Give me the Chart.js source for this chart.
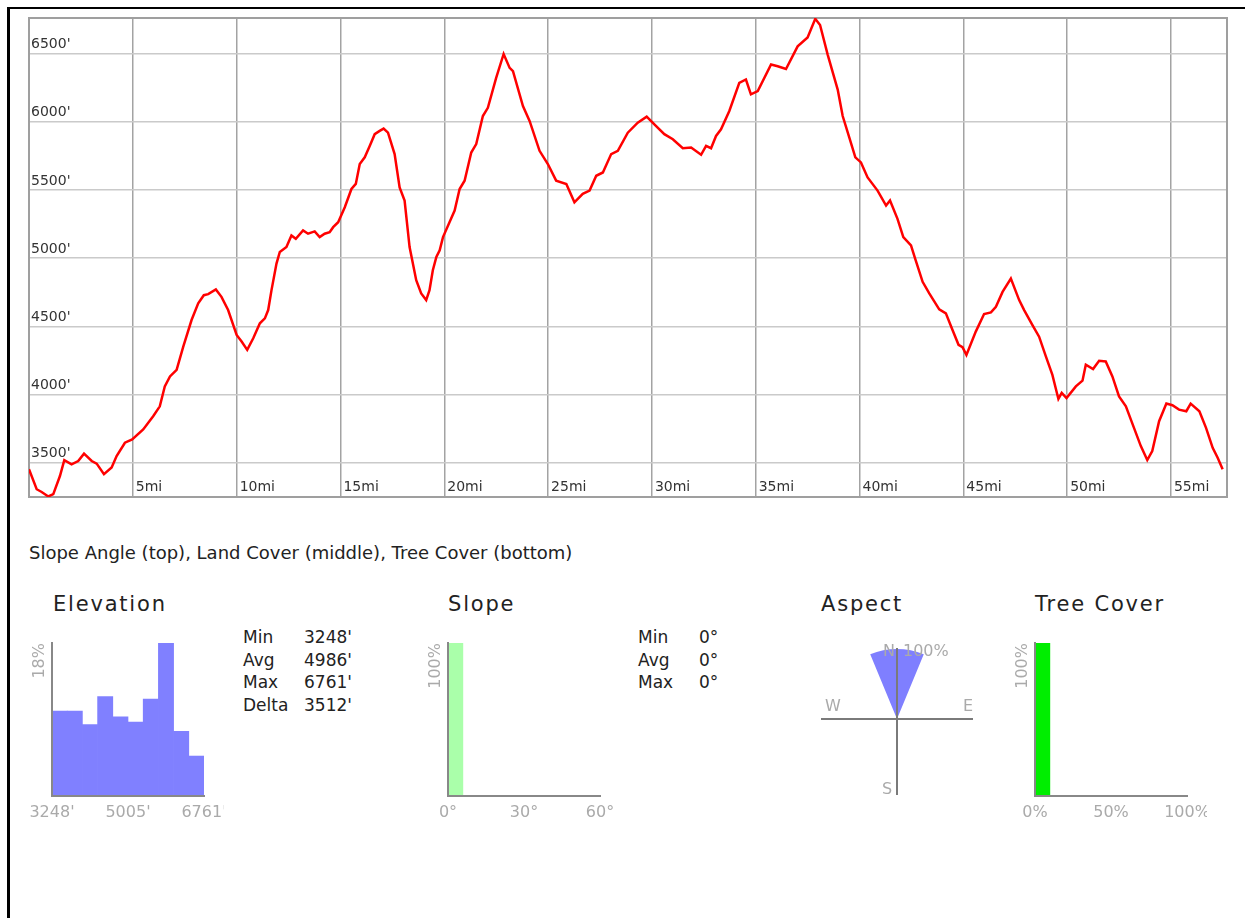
<!DOCTYPE html>
<html>
<head>
<meta charset="utf-8">
<script src="https://cdn.jsdelivr.net/npm/chart.js@4.4.1/dist/chart.umd.min.js"></script>
<style>
  body { margin: 0; width: 1245px; height: 918px; overflow: hidden; background: #fff; position: relative;
         font-family: 'DejaVu Sans', sans-serif; color: #222; }
  .frame { position: absolute; left: 7px; top: 7px; width: 1260px; height: 930px;
           border-left: 3px solid #000; border-top: 2px solid #000; }
  canvas { position: absolute; }
  .title { position: absolute; top: 592px; font-size: 21px; line-height: 25px; letter-spacing: 1.8px; white-space: nowrap; }
  .sub { position: absolute; left: 29px; top: 542px; font-size: 18px; line-height: 22px; white-space: nowrap; }
  .stats { position: absolute; top: 626px; font-size: 17px; line-height: 22.7px; border-collapse: collapse; }
  .stats td { padding: 0; white-space: nowrap; }
  .stats td:first-child { width: 61px; }
</style>
</head>
<body>
<div class="frame"></div>
<canvas id="profile" width="1245" height="510" style="left:0;top:0"></canvas>

<div class="sub">Slope Angle (top), Land Cover (middle), Tree Cover (bottom)</div>

<div class="title" style="left:53px">Elevation</div>
<div class="title" style="left:448px">Slope</div>
<div class="title" style="left:821px">Aspect</div>
<div class="title" style="left:1035px">Tree Cover</div>

<canvas id="elevHist" width="204" height="200" style="left:20px;top:630px"></canvas>
<table class="stats" id="elevStats" style="left:243px"></table>

<canvas id="slopeHist" width="204" height="200" style="left:416px;top:630px"></canvas>
<table class="stats" id="slopeStats" style="left:638px"></table>

<canvas id="aspect" width="180" height="170" style="left:810px;top:636px"></canvas>

<canvas id="treeHist" width="204" height="200" style="left:1003px;top:630px"></canvas>

<script>
// elevation profile
const distMi = [
  0.00, 0.37, 0.61, 0.93, 1.17, 1.49, 1.70, 2.05, 2.37, 2.65, 3.02, 3.26, 3.61, 3.98, 4.22, 4.62, 4.97,
  5.50, 5.98, 6.30, 6.54, 6.79, 7.11, 7.43, 7.83, 8.15, 8.42, 8.63, 9.00, 9.27, 9.59,
  10.00, 10.24, 10.51, 10.80, 11.12, 11.36, 11.52, 11.68, 11.92, 12.08, 12.40, 12.64, 12.85, 13.20, 13.44, 13.76,
  14.00, 14.24, 14.48, 14.65, 14.89, 15.21, 15.53, 15.74, 15.93, 16.17, 16.41, 16.65, 16.89, 17.08, 17.29, 17.61,
  17.85, 18.09, 18.33, 18.65, 18.89, 19.13, 19.29, 19.45, 19.62, 19.78, 19.94, 20.50, 20.74, 20.98, 21.30, 21.54,
  21.86, 22.10, 22.50, 22.86, 23.15, 23.31, 23.79, 24.11, 24.59, 24.99, 25.39, 25.88, 26.27, 26.67, 27.00, 27.32,
  27.64, 28.04, 28.36, 28.84, 29.32, 29.75, 30.12, 30.60, 31.01, 31.49, 31.89, 32.37, 32.61, 32.85, 33.09, 33.33,
  33.73, 34.21, 34.53, 34.77, 35.10, 35.74, 36.06, 36.46, 37.02, 37.50, 37.87, 38.10, 38.47, 38.95, 39.19, 39.51,
  39.80, 40.07, 40.39, 40.87, 41.28, 41.47, 41.83, 42.11, 42.48, 42.68, 43.04, 43.36, 43.84, 44.16, 44.48, 44.77,
  44.96, 45.15, 45.60, 46.00, 46.33, 46.57, 46.89, 47.29, 47.69, 47.93, 48.33, 48.65, 48.98, 49.29, 49.58, 49.74,
  49.97, 50.42, 50.74, 50.90, 51.25, 51.54, 51.86, 52.18, 52.50, 52.83, 53.22, 53.55, 53.86, 54.10, 54.43, 54.78,
  55.07, 55.39, 55.74, 55.95, 56.37, 56.69, 57.01, 57.25, 57.49
];
const elevFt = [
  3451, 3305, 3285, 3252, 3269, 3402, 3519, 3488, 3512, 3566, 3512, 3493, 3415, 3464, 3548, 3646, 3670,
  3743, 3840, 3913, 4059, 4132, 4181, 4351, 4546, 4668, 4728, 4736, 4770, 4716, 4619,
  4436, 4388, 4327, 4412, 4522, 4558, 4619, 4765, 4960, 5045, 5081, 5166, 5142, 5203, 5179, 5196,
  5154, 5179, 5190, 5227, 5263, 5373, 5507, 5544, 5690, 5739, 5823, 5909, 5933, 5950, 5920, 5763,
  5519, 5422, 5081, 4838, 4741, 4692, 4765, 4911, 5008, 5057, 5154, 5349, 5507, 5568, 5774, 5836,
  6042, 6102, 6322, 6497, 6395, 6371, 6115, 6006, 5787, 5690, 5568, 5544, 5409, 5471, 5495, 5604,
  5628, 5763, 5787, 5920, 5993, 6037, 5981, 5909, 5872, 5806, 5811, 5758, 5823, 5806, 5896, 5945,
  6079, 6285, 6310, 6201, 6225, 6420, 6407, 6387, 6553, 6618, 6755, 6710, 6491, 6236, 6042, 5884,
  5739, 5702, 5592, 5495, 5385, 5422, 5288, 5154, 5093, 4996, 4826, 4741, 4624, 4595, 4473, 4364,
  4347, 4290, 4461, 4590, 4602, 4643, 4752, 4850, 4692, 4619, 4509, 4424, 4278, 4144, 3967, 4011,
  3974, 4059, 4101, 4218, 4186, 4247, 4242, 4132, 3986, 3913, 3755, 3621, 3519, 3585, 3804, 3933,
  3921, 3889, 3877, 3933, 3877, 3755, 3609, 3536, 3451
];
const xTicks = [5, 10, 15, 20, 25, 30, 35, 40, 45, 50, 55];
const yTicks = [3500, 4000, 4500, 5000, 5500, 6000, 6500];
const distMax = 57.7;

// summary widgets
const elevMin = 3248;
const elevMax = 6761;
const elevHist = [10.0, 10.0, 8.4, 11.7, 9.3, 8.7, 11.4, 18.0, 7.6, 4.7];   // % per bin
const slopeHist = [100, 0, 0, 0, 0, 0, 0, 0, 0, 0];                         // 0..60 deg
const treeHist = [100, 0, 0, 0, 0, 0, 0, 0, 0, 0];                          // 0..100 %
const aspectDirs = ['N', 'NE', 'E', 'SE', 'S', 'SW', 'W', 'NW'];
const aspectPct = [100, 0, 0, 0, 0, 0, 0, 0];

const elevStats = [['Min', "3248'"], ['Avg', "4986'"], ['Max', "6761'"], ['Delta', "3512'"]];
const slopeStats = [['Min', '0°'], ['Avg', '0°'], ['Max', '0°']];

function fillStats(id, rows) {
  document.getElementById(id).innerHTML =
    rows.map(r => `<tr><td>${r[0]}</td><td>${r[1]}</td></tr>`).join('');
}
fillStats('elevStats', elevStats);
fillStats('slopeStats', slopeStats);

Chart.defaults.font.family = "'DejaVu Sans', sans-serif";
Chart.defaults.animation = false;

const noPad = s => { s.paddingLeft = 0; s.paddingRight = 0; s.paddingTop = 0; s.paddingBottom = 0; };

// grey box round the plot
const frame = {
  id: 'frame',
  beforeDatasetsDraw(chart) {
    const { ctx, chartArea: a } = chart;
    ctx.save();
    ctx.strokeStyle = '#9f9f9f';
    ctx.lineWidth = 2;
    ctx.strokeRect(a.left, a.top, a.right - a.left, a.bottom - a.top);
    ctx.restore();
  }
};

new Chart(document.getElementById('profile'), {
  type: 'line',
  data: {
    datasets: [{
      data: distMi.map((d, i) => ({ x: d, y: elevFt[i] })),
      borderColor: '#f00',
      borderWidth: 2.5,
      pointRadius: 0,
      tension: 0,
      fill: false
    }]
  },
  options: {
    responsive: false,
    layout: { padding: { left: 29, top: 18, right: 18, bottom: 13 } },
    plugins: { legend: { display: false }, tooltip: { enabled: false } },
    scales: {
      x: {
        type: 'linear', min: 0, max: distMax,
        afterBuildTicks: s => { s.ticks = xTicks.map(v => ({ value: v })); },
        afterFit: s => { s.height = 0; noPad(s); },
        grid: { color: '#a3a3a3', lineWidth: 1.5, drawTicks: false },
        border: { display: false },
        ticks: { mirror: true, align: 'start', labelOffset: 3, padding: 1, color: '#333', font: { size: 14 },
                 maxRotation: 0, autoSkip: false, callback: v => v + 'mi' }
      },
      y: {
        min: elevMin, max: elevMax,
        afterBuildTicks: s => { s.ticks = yTicks.map(v => ({ value: v })); },
        afterFit: s => { s.width = 0; noPad(s); },
        grid: { color: '#cacaca', lineWidth: 1.5, drawTicks: false },
        border: { display: false },
        ticks: { mirror: true, padding: 2, labelOffset: -9, color: '#333', font: { size: 14 },
                 callback: v => v + "'" }
      }
    }
  },
  plugins: [frame]
});

function histChart(id, values, lo, hi, ticks, fmt, color, inflate) {
  const step = (hi - lo) / values.length;
  const top = Math.max(...values);
  return new Chart(document.getElementById(id), {
    type: 'bar',
    data: {
      datasets: [{
        data: values.map((v, i) => ({ x: lo + step * (i + 0.5), y: v })),
        backgroundColor: color,
        borderWidth: 0,
        barPercentage: 1,
        categoryPercentage: 1,
        inflateAmount: inflate
      }]
    },
    options: {
      responsive: false,
      layout: { padding: { left: 10, right: 20, top: 13, bottom: 0 } },
      plugins: { legend: { display: false }, tooltip: { enabled: false } },
      scales: {
        x: {
          type: 'linear', min: lo, max: hi, offset: false,
          afterBuildTicks: s => { s.ticks = ticks.map(v => ({ value: v })); },
          afterFit: s => { s.height = 34; noPad(s); },
          grid: { display: false, drawTicks: false },
          border: { color: '#888', width: 2, z: 1 },
          ticks: { padding: 7, color: '#aaa', font: { size: 16 }, maxRotation: 0, autoSkip: false, callback: fmt }
        },
        y: {
          min: 0, max: top,
          afterFit: s => { s.width = 22; noPad(s); },
          grid: { display: false, drawTicks: false },
          border: { color: '#888', width: 2, z: 1 },
          ticks: { display: false },
          title: { display: true, text: Math.round(top) + '%', align: 'end', color: '#aaa',
                   font: { size: 16 }, padding: 0 }
        }
      }
    }
  });
}

histChart('elevHist', elevHist, elevMin, elevMax, [elevMin, (elevMin + elevMax) / 2, elevMax],
  v => Math.round(v) + "'", '#8080ff', 'auto');
histChart('slopeHist', slopeHist, 0, 60, [0, 30, 60], v => v + '°', '#aaffaa', 0);
histChart('treeHist', treeHist, 0, 100, [0, 50, 100], v => v + '%', '#00ee00', 0);

// compass cross and labels on the aspect rose
const compass = {
  id: 'compass',
  afterDatasetsDraw(chart) {
    const r = chart.scales.r;
    const cx = r.xCenter, cy = r.yCenter, R = r.drawingArea;
    const ctx = chart.ctx;
    ctx.save();
    ctx.strokeStyle = '#7a7a7a';
    ctx.lineWidth = 2;
    ctx.beginPath();
    ctx.moveTo(cx - R - 6, cy); ctx.lineTo(cx + R + 6, cy);
    ctx.moveTo(cx, cy - R - 1); ctx.lineTo(cx, cy + R + 6);
    ctx.stroke();
    ctx.fillStyle = '#aaa';
    ctx.font = "16px 'DejaVu Sans'";
    ctx.textBaseline = 'middle';
    ctx.textAlign = 'center';
    ctx.fillText('W', cx - R + 6, cy - 12);
    ctx.fillText('E', cx + R + 1, cy - 12);
    ctx.fillText('S', cx - 10, cy + R + 1);
    ctx.fillText('N', cx - 8, cy - R + 3);
    ctx.textAlign = 'left';
    ctx.fillText(r.max + '%', cx + 6, cy - R + 3);
    ctx.restore();
  }
};

new Chart(document.getElementById('aspect'), {
  type: 'polarArea',
  data: {
    labels: aspectDirs,
    datasets: [{ data: aspectPct, backgroundColor: 'rgba(0,0,255,0.5)', borderWidth: 0 }]
  },
  options: {
    responsive: false,
    layout: { padding: { left: 17, right: 23, top: 13, bottom: 17 } },
    plugins: { legend: { display: false }, tooltip: { enabled: false } },
    scales: {
      r: {
        min: 0, max: 100, startAngle: -22.5,
        ticks: { display: false },
        grid: { display: false },
        angleLines: { display: false },
        pointLabels: { display: false }
      }
    }
  },
  plugins: [compass]
});
</script>
</body>
</html>
